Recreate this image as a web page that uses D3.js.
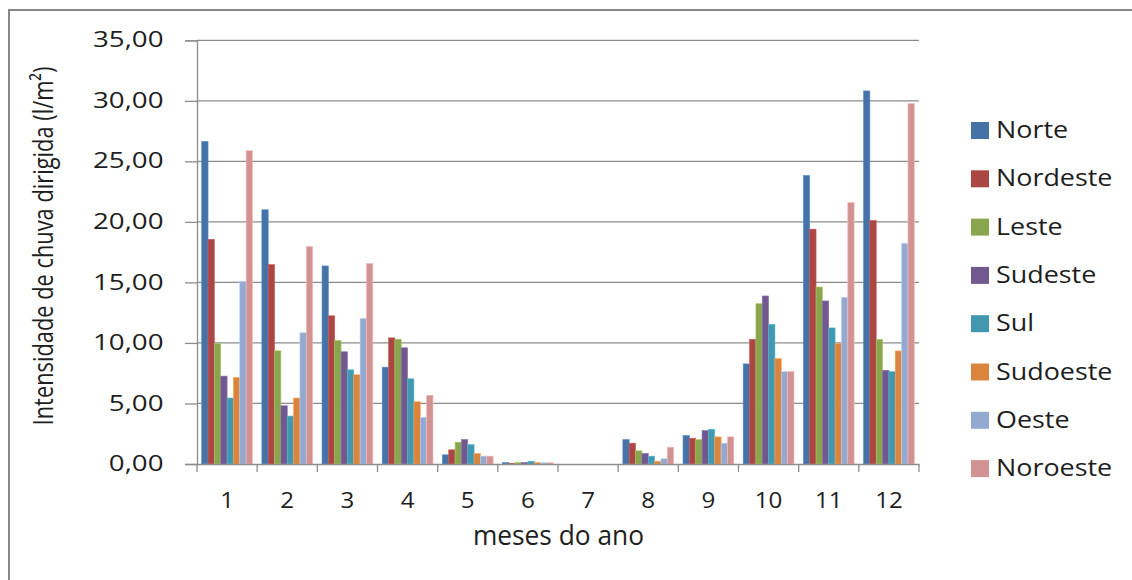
<!DOCTYPE html>
<html><head><meta charset="utf-8">
<script src="https://cdn.jsdelivr.net/npm/d3@7"></script>
<style>
html,body{margin:0;padding:0;background:#fff;}
svg text{font-family:"Open Sans","Noto Sans",sans-serif;fill:#1e1e1e;}
</style></head><body>
<svg id="c" width="1132" height="580"></svg>
<script>
const months = ["1","2","3","4","5","6","7","8","9","10","11","12"];
const seriesNames = ["Norte","Nordeste","Leste","Sudeste","Sul","Sudoeste","Oeste","Noroeste"];
const colors = ["#4572A7","#AA4643","#89A54E","#71588F","#4198AF","#DB843D","#93A9CF","#D19392"];
const norte    = [26.65,21.00,16.36,8.00,0.76,0.12,0,2.02,2.35,8.27,23.83,30.82];
const nordeste = [18.56,16.47,12.24,10.42,1.17,0.05,0,1.72,2.13,10.30,19.40,20.12];
const leste    = [9.96,9.35,10.20,10.31,1.80,0.12,0,1.09,2.02,13.24,14.62,10.30];
const sudeste  = [7.26,4.81,9.27,9.60,2.02,0.12,0,0.87,2.76,13.88,13.47,7.74];
const sul      = [5.45,3.96,7.78,7.04,1.61,0.23,0,0.65,2.87,11.54,11.24,7.63];
const sudoeste = [7.15,5.45,7.37,5.14,0.87,0.12,0,0.23,2.24,8.70,9.94,9.34];
const oeste    = [15.07,10.84,12.02,3.85,0.65,0.10,0,0.43,1.72,7.63,13.76,18.22];
const noroeste = [25.88,17.96,16.56,5.67,0.65,0.10,0,1.39,2.24,7.63,21.60,29.77];
const yTicks = [0,5,10,15,20,25,30,35];
const seriesValues = [norte,nordeste,leste,sudeste,sul,sudoeste,oeste,noroeste];

const svg = d3.select("#c");
// outer chart border
svg.append("rect").attr("x",9).attr("y",10).attr("width",1140).attr("height",600)
  .attr("fill","none").attr("stroke","#888").attr("stroke-width",2);

const L=197, R=919, T=40.3, B=464;
const x0 = d3.scaleBand().domain(months).range([L,R]).padding(0);
const bw = x0.bandwidth();
const gap = bw*0.078;
const x1 = d3.scaleBand().domain(seriesNames).range([gap, bw-gap]).padding(0);
const y = d3.scaleLinear().domain([0,35]).range([B,T]);

// gridlines
svg.append("g").selectAll("line").data(yTicks.filter(d=>d>0)).join("line")
  .attr("x1",L).attr("x2",R).attr("y1",d=>y(d)).attr("y2",d=>y(d))
  .attr("stroke","#8c8c8c").attr("stroke-width",1.3);

// bars
const g = svg.append("g");
seriesNames.forEach((s,i)=>{
  g.append("g").selectAll("rect").data(months.map((m,j)=>({m,v:seriesValues[i][j]}))).join("rect")
    .attr("x",d=>x0(d.m)+x1(s)).attr("width",x1.bandwidth())
    .attr("y",d=>y(d.v)).attr("height",d=>B-y(d.v))
    .attr("fill",colors[i])
    .attr("stroke",d3.color(colors[i]).brighter(0.6)).attr("stroke-width",0.6);
});

// y axis
const yAxis = d3.axisLeft(y).tickValues(yTicks).tickSize(12).tickPadding(20)
  .tickFormat(d=>d3.format(".2f")(d).replace(".",","));
const ya = svg.append("g").attr("transform",`translate(${L},0)`).call(yAxis);
ya.select(".domain").attr("stroke","#8c8c8c").attr("stroke-width",1.3);
ya.selectAll(".tick line").attr("stroke","#8c8c8c").attr("stroke-width",1.3);
ya.selectAll(".tick text").attr("font-size",22).attr("fill","#1e1e1e")
  .attr("x",0).attr("dy","0.3em").attr("transform","translate(-33.5,0) scale(1.26,1)");

// x axis
const xAxis = d3.axisBottom(x0).tickSize(0).tickPadding(0);
const xa = svg.append("g").attr("transform",`translate(0,${B})`).call(xAxis);
xa.select(".domain").attr("stroke","#8c8c8c").attr("stroke-width",1.3);
xa.selectAll(".tick text").attr("font-size",21).attr("fill","#1e1e1e")
  .attr("y",0).attr("dy",null).attr("transform","translate(0,43.5) scale(1.15,1)");
// category separator ticks
xa.append("g").selectAll("line").data(months.map(m=>x0(m)).concat([R])).join("line")
  .attr("x1",d=>d).attr("x2",d=>d).attr("y1",0).attr("y2",8)
  .attr("stroke","#8c8c8c").attr("stroke-width",1.3);

// axis titles
svg.append("text").attr("transform","translate(558.5,545) scale(0.94,1)").attr("text-anchor","middle")
  .attr("font-size",28).text("meses do ano");
svg.append("text").attr("transform","translate(53,246) rotate(-90) scale(0.78,1)").attr("text-anchor","middle")
  .attr("font-size",28).text("Intensidade de chuva dirigida (l/m²)");

// legend
const lg = svg.append("g");
seriesNames.forEach((s,i)=>{
  lg.append("rect").attr("x",971).attr("y",122 + i*48.3).attr("width",18).attr("height",17).attr("fill",colors[i]);
  lg.append("text").attr("transform",`translate(996,${138 + i*48.3}) scale(1.17,1)`)
    .attr("font-size",23).text(s);
});
</script>
</body></html>
